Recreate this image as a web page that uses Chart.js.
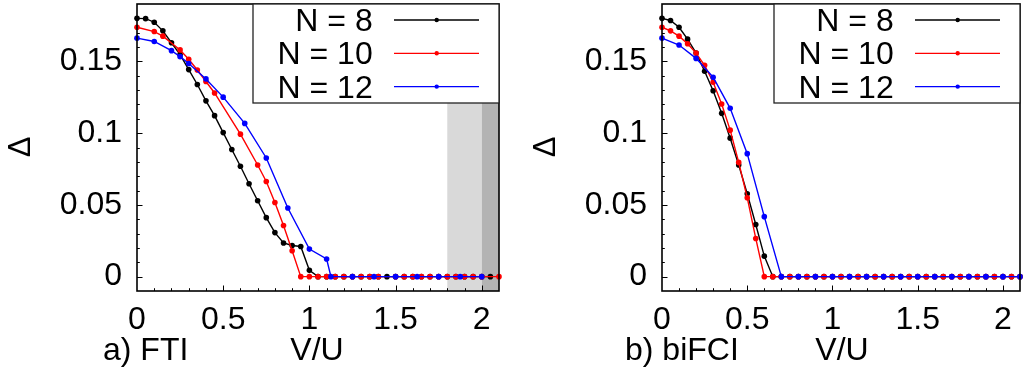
<!DOCTYPE html>
<html>
<head>
<meta charset="utf-8">
<script src="https://cdn.jsdelivr.net/npm/chart.js@4.4.1/dist/chart.umd.min.js"></script>
<style>
html,body{margin:0;padding:0;background:#fff;width:1024px;height:374px;overflow:hidden;}
.panel{position:absolute;top:0;height:374px;}
#p1{left:0;width:525px;}
#p2{left:525px;width:499px;}
</style>
</head>
<body>
<div class="panel" id="p1"><canvas id="c1" width="525" height="374"></canvas></div>
<div class="panel" id="p2"><canvas id="c2" width="499" height="374"></canvas></div>
<script>
// ---------- data ----------
const seriesNames = ['N = 8', 'N = 10', 'N = 12'];
const seriesColors = ['#000000', '#ff0000', '#0000ff'];
const xTicks = [0, 0.5, 1, 1.5, 2];
const xTickLabels = ['0', '0.5', '1', '1.5', '2'];
const yTicks = [0, 0.05, 0.1, 0.15];
const yTickLabels = ['0', '0.05', '0.1', '0.15'];
const panelLabels = ['a) FTI', 'b) biFCI'];
const xTitle = 'V/U';
const yTitle = '\u0394';
const shadeLight = [1.8, 2.0];
const shadeDark = [2.0, 2.1];

// panel a) FTI
const ftiN8V = [0,0.05,0.1,0.15,0.2,0.25,0.3,0.35,0.4,0.45,0.5,0.55,0.6,0.65,0.7,0.75,0.8,0.85,0.9,0.95,1.0,1.05,
  1.1,1.15,1.2,1.25,1.3,1.35,1.4,1.45,1.5,1.55,1.6,1.65,1.7,1.75,1.8,1.85,1.9,1.95,2.0,2.05];
const ftiN8D = [0.180,0.1798,0.1773,0.1713,0.163,0.1547,0.1443,0.1339,0.1225,0.1122,0.1004,0.0886,0.0769,0.0647,0.0529,0.0411,0.0307,0.0235,0.0217,0.021,0.0044,0,
  0,0,0,0,0,0,0,0,0,0,0,0,0,0,0,0,0,0,0,0];
const ftiN10V = [0,0.1,0.15,0.25,0.3,0.35,0.4,0.45,0.6,0.7,0.75,0.8,0.85,0.9,0.95,
  1.0,1.05,1.1,1.15,1.2,1.25,1.3,1.35,1.4,1.5,1.55,1.6,1.65,1.7,1.75,1.8,1.85,1.9,1.95,2.0,2.1];
const ftiN10D = [0.1738,0.1708,0.1676,0.158,0.1515,0.144,0.136,0.128,0.0993,0.0778,0.0663,0.0517,0.0356,0.018,0,
  0,0,0,0,0,0,0,0,0,0,0,0,0,0,0,0,0,0,0,0,0];
const ftiN12V = [0,0.1,0.2,0.25,0.3,0.4,0.5,0.625,0.75,0.875,1.0,1.1,1.125,1.25,1.375,1.5,1.625,1.75,1.875,2.0];
const ftiN12D = [0.1662,0.1639,0.1575,0.1533,0.1485,0.1378,0.1251,0.1068,0.0827,0.0478,0.0192,0.0123,0,0,0,0,0,0,0,0];

// panel b) biFCI
const biN8V = [0,0.05,0.1,0.15,0.2,0.25,0.3,0.35,0.4,0.45,0.5,0.55,0.6,0.65,0.7,0.75,0.8,0.85,0.9,0.95,1.0,1.05,
  1.1,1.15,1.2,1.25,1.3,1.35,1.4,1.45,1.5,1.55,1.6,1.65,1.7,1.75,1.8,1.85,1.9,1.95,2.0,2.05,2.1];
const biN8D = [0.180,0.1785,0.1738,0.1655,0.1558,0.1431,0.1295,0.1138,0.0965,0.0778,0.0578,0.0363,0.0143,0,0,0,0,0,0,0,0,0,
  0,0,0,0,0,0,0,0,0,0,0,0,0,0,0,0,0,0,0,0,0];
const biN10V = [0,0.05,0.1,0.15,0.2,0.25,0.3,0.35,0.4,0.45,0.5,0.55,0.6,0.65,0.7,0.75,0.8,0.85,0.9,0.95,1.0,1.05,
  1.1,1.15,1.2,1.25,1.3,1.35,1.4,1.45,1.5,1.55,1.6,1.65,1.7,1.75,1.8,1.85,1.9,1.95,2.0,2.05,2.1];
const biN10D = [0.1738,0.1713,0.1676,0.1623,0.1558,0.1473,0.1355,0.1203,0.1021,0.0796,0.055,0.0266,0,0,0,0,0,0,0,0,0,0,
  0,0,0,0,0,0,0,0,0,0,0,0,0,0,0,0,0,0,0,0,0];
const biN12V = [0,0.1,0.2,0.3,0.4,0.5,0.6,0.7,0.8,0.9,1.0,1.1,1.2,1.3,1.4,1.5,1.6,1.7,1.8,1.9,2.0,2.1];
const biN12D = [0.1662,0.1614,0.1521,0.139,0.1173,0.0857,0.0418,0,0,0,0,0,0,0,0,0,0,0,0,0,0,0];

// ---------- rendering ----------
const FONT = '"Liberation Sans", Arial, Helvetica, sans-serif';
const FS = 32;

function pts(xs, ys) { return xs.map((x, i) => ({ x: x, y: ys[i] })); }

function makeDatasets(list) {
  return list.map((s, i) => ({
    label: seriesNames[i],
    data: pts(s[0], s[1]),
    borderColor: seriesColors[i],
    backgroundColor: seriesColors[i],
    pointBackgroundColor: seriesColors[i],
    pointBorderWidth: 0,
    pointRadius: 2.8,
    borderWidth: 1.4,
    tension: 0,
    clip: false,
    order: 3 - i
  }));
}

function panelPlugin(panelIndex, shaded) {
  return {
    id: 'panel' + panelIndex,
    beforeDatasetsDraw(chart) {
      if (!shaded) return;
      const ctx = chart.ctx, a = chart.chartArea, xs = chart.scales.x;
      ctx.save();
      ctx.fillStyle = '#d9d9d9';
      let x0 = xs.getPixelForValue(shadeLight[0]), x1 = xs.getPixelForValue(shadeLight[1]);
      ctx.fillRect(x0, a.top, x1 - x0, a.bottom - a.top);
      ctx.fillStyle = '#b3b3b3';
      x0 = xs.getPixelForValue(shadeDark[0]); x1 = xs.getPixelForValue(shadeDark[1]);
      ctx.fillRect(x0, a.top, x1 - x0, a.bottom - a.top);
      ctx.restore();
    },
    afterDatasetsDraw(chart) {
      const ctx = chart.ctx, a = chart.chartArea, xs = chart.scales.x, ys = chart.scales.y;
      ctx.save();
      // inward tick marks
      ctx.strokeStyle = '#000';
      ctx.lineWidth = 1;
      ctx.beginPath();
      for (let k = 0; k <= 18; k++) {
        const v = k / 100;
        const py = Math.round(ys.getPixelForValue(v)) + 0.5;
        const len = (k % 5 === 0) ? 5.5 : 2.8;
        ctx.moveTo(a.left, py); ctx.lineTo(a.left + len, py);
      }
      for (let k = 1; k <= 20; k++) {
        const v = k / 10;
        const px = Math.round(xs.getPixelForValue(v)) + 0.5;
        const len = (k % 5 === 0) ? 5.5 : 2.8;
        ctx.moveTo(px, a.bottom); ctx.lineTo(px, a.bottom - len);
      }
      ctx.stroke();
      // frame
      ctx.lineWidth = 1.6;
      ctx.strokeStyle = '#000';
      ctx.strokeRect(a.left, a.top, a.right - a.left, a.bottom - a.top);
      // legend box
      const bx = a.right - 246, by = a.top, bw = 246, bh = 99;
      ctx.fillStyle = '#fff';
      ctx.fillRect(bx, by, bw, bh);
      ctx.lineWidth = 1.3;
      ctx.strokeStyle = '#222';
      ctx.strokeRect(bx, by, bw, bh);
      ctx.font = FS + 'px ' + FONT;
      ctx.textAlign = 'right';
      ctx.textBaseline = 'alphabetic';
      const rowsLine = [16, 49.3, 82.6];
      const rowsText = [26.8, 60.2, 93.5];
      for (let i = 0; i < 3; i++) {
        ctx.fillStyle = '#000';
        ctx.fillText(seriesNames[i], a.right - 126.3, by + rowsText[i]);
        ctx.strokeStyle = seriesColors[i];
        ctx.lineWidth = 1.3;
        ctx.beginPath();
        ctx.moveTo(a.right - 105, by + rowsLine[i]);
        ctx.lineTo(a.right - 20, by + rowsLine[i]);
        ctx.stroke();
        ctx.fillStyle = seriesColors[i];
        ctx.beginPath();
        ctx.arc(a.right - 62.3, by + rowsLine[i], 2.2, 0, Math.PI * 2);
        ctx.fill();
      }
      // axis titles
      ctx.fillStyle = '#000';
      ctx.save();
      ctx.translate(21, 147);
      ctx.rotate(-Math.PI / 2);
      ctx.textAlign = 'center';
      ctx.textBaseline = 'middle';
      ctx.font = '31px ' + FONT;
      ctx.fillText(yTitle, 0, 0);
      ctx.restore();
      ctx.textAlign = 'center';
      ctx.font = FS + 'px ' + FONT;
      ctx.textBaseline = 'alphabetic';
      ctx.fillText(xTitle, 317, 360);
      ctx.textAlign = 'left';
      ctx.fillText(panelLabels[panelIndex], panelIndex === 0 ? 103 : 100, 360);
      ctx.restore();
    }
  };
}

function makeChart(id, panelIndex, series, rightPad, shaded) {
  return new Chart(document.getElementById(id), {
    type: 'line',
    data: { datasets: makeDatasets(series) },
    options: {
      responsive: false,
      animation: false,
      devicePixelRatio: 1,
      events: [],
      layout: { padding: { left: 0, right: rightPad, top: 3, bottom: 0 } },
      plugins: { legend: { display: false }, tooltip: { enabled: false } },
      scales: {
        x: {
          type: 'linear', min: 0, max: 2.1,
          grid: { display: false, drawTicks: false },
          border: { display: false },
          ticks: {
            font: { family: FONT, size: FS }, color: '#000', padding: 10,
            maxRotation: 0, autoSkip: false,
            callback: (v) => { const i = xTicks.indexOf(v); return i >= 0 ? xTickLabels[i] : ''; }
          },
          afterBuildTicks: (s) => { s.ticks = xTicks.map(v => ({ value: v })); },
          afterFit: (s) => { s.height = 83; s.paddingLeft = 0; s.paddingRight = 0; }
        },
        y: {
          type: 'linear', min: -0.01, max: 0.19,
          grid: { display: false, drawTicks: false },
          border: { display: false },
          ticks: {
            font: { family: FONT, size: FS }, color: '#000', padding: 15,
            autoSkip: false,
            callback: (v) => { const i = yTicks.indexOf(v); return i >= 0 ? yTickLabels[i] : ''; }
          },
          afterBuildTicks: (s) => { s.ticks = yTicks.map(v => ({ value: v })); },
          afterFit: (s) => { s.width = 137; s.paddingTop = 0; s.paddingBottom = 0; }
        }
      }
    },
    plugins: [panelPlugin(panelIndex, shaded)]
  });
}

makeChart('c1', 0, [[ftiN8V, ftiN8D], [ftiN10V, ftiN10D], [ftiN12V, ftiN12D]], 26, true);
makeChart('c2', 1, [[biN8V, biN8D], [biN10V, biN10D], [biN12V, biN12D]], 1, false);
</script>
</body>
</html>
